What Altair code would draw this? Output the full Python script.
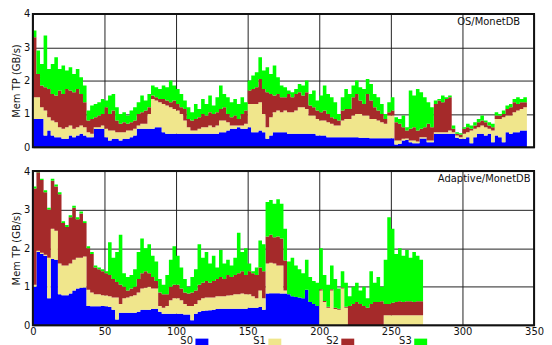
import altair as alt
import numpy as np
import pandas as pd

series = ["S0", "S1", "S2", "S3"]
colors = ["#0000ff", "#f0e68c", "#a52a2a", "#00ff00"]
x_step = 2.5
x_ticks = [0, 50, 100, 150, 200, 250, 300, 350]
y_ticks = [0, 1, 2, 3, 4]
panel_labels = ["OS/MonetDB", "Adaptive/MonetDB"]
y_title = "Mem TP (GB/s)"

# ---- OS/MonetDB: upper edge of each stacked band (GB/s), one value per 2.5 time units ----
os_s0 = [.85, .85, .85, .35, .5, .35, .3, .3, .25, .25,
         .35, .3, .35, .4, .35, .3, .3, .55, .55, .55,
         .3, .2, .25, .25, .2, .25, .25, .3, .35, .55,
         .55, .55, .55, .55, .6, .6, .45, .4, .4, .4,
         .4, .4, .4, .4, .4, .4, .4, .4, .4, .4,
         .4, .4, .45, .45, .5, .55, .55, .6, .55, .55,
         .6, .45, .45, .5, .45, .25, .35, .45, .45, .45,
         .45, .4, .4, .4, .4, .4, .4, .4, .4, .35,
         .35, .35, .3, .3, .3, .3, .3, .3, .3, .3,
         .3, .28, .28, .28, .27, .27, .27, .27, .27, .27,
         .27, .08, .1, .2, .22, .15, .12, .12, .26, .26,
         .15, .15, .4, .4, .4, .4, .4, .4, .28, .25,
         .25, .3, .12, .3, .4, .4, .35, .4, .15, .35,
         .3, .15, .45, .4, .45, .45, .5, .5, .5]
os_s1 = [1.5, 1.5, 1.2, 1.1, .9, .8, .75, .6, .55, .6,
         .65, .55, .6, .65, .6, .45, .4, .6, .6, .65,
         .55, .5, .5, .45, .45, .45, .5, .5, .55, .65,
         .7, .7, 1.0, 1.45, 1.4, 1.35, 1.3, 1.25, 1.2, 1.15,
         1.1, 1.0, .8, .6, .5, .5, .55, .6, .6, .65,
         .6, .65, .8, .8, .75, .65, .65, .65, .65, .7,
         1.3, 1.3, 1.3, 1.35, 1.0, .6, .9, 1.05, 1.1, 1.05,
         1.1, 1.05, 1.05, 1.1, 1.2, 1.2, 1.15, .95, .95, .85,
         .8, .8, .75, .7, .65, .65, .8, .85, .85, .95,
         1.0, 1.0, .95, .95, .85, .85, .8, .75, .7, .95,
         .95, .2, .2, .25, .26, .2, .2, .17, .3, .3,
         .2, .2, .45, .45, .45, .45, .5, .45, .35, .3,
         .4, .45, .5, .55, .6, .65, .6, .55, .5, .85,
         .85, .9, .95, .95, 1.05, 1.1, 1.15, 1.2, 1.2]
os_s2 = [3.3, 2.2, 1.85, 1.8, 1.75, 1.6, 1.55, 1.7, 1.6, 1.75,
         1.7, 1.65, 1.75, 1.6, 1.35, .8, .85, .9, .95, 1.0,
         1.2, 1.0, 1.1, .8, .7, .75, .7, .75, .8, 1.0,
         1.05, 1.1, 1.2, 1.55, 1.5, 1.45, 1.45, 1.4, 1.35, 1.4,
         1.3, 1.2, 1.15, .85, .8, .85, .9, 1.0, .95, 1.05,
         1.0, 1.05, 1.15, 1.2, 1.0, .9, .95, .85, 1.0, 1.1,
         1.7, 1.75, 1.8, 2.05, 1.75, 1.65, 1.6, 1.55, 1.6, 1.5,
         1.5, 1.6, 1.5, 1.6, 1.65, 1.55, 1.65, 1.25, 1.2, 1.1,
         1.05, 1.1, 1.0, .9, .85, .8, 1.1, 1.15, 1.15, 1.5,
         1.6, 1.4, 1.3, 1.6, 1.4, 1.2, 1.1, 1.0, .85, 1.05,
         1.1, .75, .7, .6, .5, .55, .6, .5, .55, .6,
         .7, .6, 1.3, 1.4, 1.35, 1.45, 1.5, .55, .4, .38,
         .55, .6, .55, .65, .75, .8, .75, .65, .6, .95,
         .95, 1.0, 1.15, 1.2, 1.35, 1.3, 1.35, 1.35, 1.35]
os_s3 = [3.5, 2.9, 2.5, 3.35, 2.35, 2.5, 2.7, 2.35, 2.45, 2.3,
         2.4, 2.2, 2.35, 2.1, 1.85, 1.1, 1.25, 1.3, 1.35, 1.45,
         1.4, 1.55, 1.6, 1.2, 1.0, 1.05, .95, 1.1, 1.2, 1.35,
         1.55, 1.4, 1.6, 1.85, 1.8, 1.75, 1.85, 1.8, 2.0, 1.85,
         1.75, 1.6, 1.4, 1.2, 1.05, 1.3, 1.15, 1.45, 1.3, 1.55,
         1.25, 1.5, 1.85, 1.6, 1.5, 1.35, 1.45, 1.3, 1.5, 1.35,
         2.0, 2.15, 2.25, 2.7, 2.3, 2.4, 2.2, 2.45, 2.1, 1.85,
         1.8, 1.7, 1.65, 1.75, 1.9, 1.85, 2.0, 1.6, 1.7, 1.4,
         1.55, 1.85, 1.6, 1.5, 1.35, 1.0, 1.5, 1.75, 1.6, 1.85,
         2.0, 1.8, 1.75, 2.05, 1.9, 1.6, 1.5, 1.3, 1.0, 1.35,
         1.5, .9, .85, .95, .6, 1.7, 1.55, 1.75, 1.65, 1.5,
         1.35, 1.2, 1.4, 1.45, 1.55, 1.5, 1.55, .65, .45, .42,
         .6, .7, .65, .75, .85, .95, .8, .75, .7, 1.05,
         1.0, 1.1, 1.25, 1.3, 1.45, 1.5, 1.45, 1.5, 1.5]

# ---- Adaptive/MonetDB ----
ad_s0 = [1.0, 1.9, 1.85, 1.8, .7, 1.72, 1.7, .8, .78, .78,
         .82, .9, .95, .97, .98, .5, .49, .49, .49, .5,
         .49, .47, .4, .15, .32, .32, .32, .32, .32, .35,
         .4, .4, .4, .42, .43, .35, .3, .3, .3, .3,
         .3, .3, .28, .28, .13, .3, .35, .37, .38, .39,
         .4, .42, .43, .43, .43, .43, .43, .43, .43, .43,
         .45, .45, .45, .47, .4, .82, .83, .83, .83, .82,
         .82, .8, .75, .73, .72, .7, .92, .6, .55, .5,
         0, 0, 0, 0, 0, 0, 0, 0, 0, 0,
         0, 0, 0, 0, 0, 0, 0, 0, 0, 0,
         0, 0, 0, 0, 0, 0, 0, 0, 0, 0]
ad_s1 = [1.05, 1.93, 1.88, 1.83, 1.75, 2.5, 2.45, 1.6, 1.55, 1.55,
         1.6, 1.7, 1.75, 1.75, 1.78, .92, .85, .8, .8, .78,
         .77, .75, .72, .72, .55, .7, .72, .75, .78, .85,
         .95, .97, 1.0, .95, .95, .5, .45, .5, .65, .7,
         .7, .65, .55, .5, .5, .55, .65, .7, .72, .72,
         .72, .75, .75, .75, .77, .78, .8, .8, .82, .8,
         .8, .75, .7, .9, .7, 1.6, 1.62, 1.6, 1.55, 1.55,
         .9, .8, .75, .73, .72, .7, .92, .6, .55, .5,
         .9, .6, .45, .9, .42, .4, .95, .45, 0, 0,
         0, 0, 0, 0, 0, 0, 0, 0, .26, .26,
         .26, .26, .26, .26, .26, .26, .26, .26, .26, .26]
ad_s2 = [3.55, 3.97, 3.77, 3.45, 3.0, 3.75, 3.6, 3.4, 2.65, 2.55,
         2.8, 3.05, 2.75, 2.9, 2.65, 2.0, 1.85, 1.5, 1.45, 1.4,
         1.35, 1.3, 1.2, 1.12, 1.05, 1.0, .9, .95, 1.0, 1.2,
         1.35, 1.4, 1.35, 1.25, 1.15, .85, .8, .8, 1.0, 1.05,
         1.05, .95, .85, .82, .85, .9, 1.05, 1.1, 1.15, 1.1,
         1.15, 1.2, 1.25, 1.2, 1.3, 1.25, 1.3, 1.35, 1.4, 1.3,
         1.4, 1.35, 1.3, 1.5, 1.4, 2.3, 2.35, 2.28, 2.3, 2.25,
         1.68, .8, .75, .73, .72, .7, .92, .6, .55, .5,
         .93, .63, .48, .93, .45, .43, .98, .48, .5, .55,
         .6, .55, .5, .45, .55, .6, .6, .62, .55, .55,
         .58, .6, .62, .6, .62, .62, .6, .62, .62, .62]
ad_s3 = [3.6, 4.0, 3.8, 3.5, 3.05, 3.8, 3.65, 3.45, 2.7, 2.6,
         2.85, 3.1, 2.8, 2.95, 2.7, 2.05, 1.9, 1.55, 1.5, 1.45,
         1.4, 2.15, 1.75, 1.9, 2.35, 1.35, 1.25, 1.3, 1.45, 1.9,
         2.25, 2.0, 2.1, 1.8, 1.65, 1.2, 1.05, 1.3, 1.7, 2.05,
         1.8, 1.5, 1.2, 1.0, 1.25, 1.45, 2.1, 1.75, 1.9, 1.6,
         1.8, 1.5, 1.95, 1.6, 1.7, 1.55, 1.75, 2.4, 1.9, 2.0,
         1.6, 1.4, 1.5, 2.2, 2.1, 3.2, 3.25, 3.15, 3.27, 3.15,
         2.5, 1.65, 1.75, 1.55, 1.45, 1.35, 1.7, 1.25, 1.15, 1.1,
         2.0, 1.3, 1.05, 1.55, 1.2, .95, 1.4, 1.1, .75, 1.0,
         1.1, .9, 1.0, .7, 1.4, 1.1, 1.25, 1.0, 1.7, 2.8,
         2.5, 1.85, 2.0, 1.8, 1.95, 1.75, 1.9, 1.8, 1.7, 1.7]


def bands(levels):
    n = len(levels[0])
    t = np.arange(n) * x_step
    lower = np.zeros(n)
    frames = []
    for name, top in zip(series, levels):
        top = np.maximum(np.asarray(top, dtype=float), lower)
        frames.append(pd.DataFrame({"t": t, "lo": lower, "hi": top, "series": name}))
        lower = top
    return pd.concat(frames, ignore_index=True)


W = 504
FONT = "DejaVu Sans"
color_enc = alt.Color("series:N", scale=alt.Scale(domain=series, range=colors), legend=None)


def panel(df, label, height, label_right, label_base, show_x):
    x_axis = alt.Axis(values=x_ticks, grid=True, labels=show_x, title=None,
                      labelPadding=1, labelFlush=False)
    y_axis = alt.Axis(values=y_ticks, grid=True, title=y_title, labelPadding=3,
                      titlePadding=2, labelFlush=False)
    area = alt.Chart(df).mark_area(interpolate="step-after").encode(
        x=alt.X("t:Q", scale=alt.Scale(domain=[0, 350], nice=False, zero=False), axis=x_axis),
        y=alt.Y("hi:Q", scale=alt.Scale(domain=[0, 4], nice=False), axis=y_axis),
        y2="lo:Q",
        color=color_enc,
    )
    one = pd.DataFrame({"label": [label]})
    frame = alt.Chart(one).mark_rect(fillOpacity=0, stroke="#111111", strokeWidth=2).encode(
        x=alt.value(0), x2=alt.value(W), y=alt.value(0), y2=alt.value(height))
    text = alt.Chart(one).mark_text(align="right", baseline="alphabetic", font=FONT,
                                    fontSize=10, color="#111111").encode(
        x=alt.value(W - label_right), y=alt.value(label_base), text="label:N")
    return alt.layer(area, frame, text).properties(width=W, height=height)


top = panel(bands([os_s0, os_s1, os_s2, os_s3]), panel_labels[0], 134, 14, 11.5, False)
bottom = panel(bands([ad_s0, ad_s1, ad_s2, ad_s3]), panel_labels[1], 155, 3.5, 10.7, True)

leg_df = pd.DataFrame({"series": series})
leg_x = alt.X("series:N", scale=alt.Scale(type="point", domain=series, range=[170, 390], padding=0),
              axis=None)
boxes = alt.Chart(leg_df).mark_square(size=169, opacity=1).encode(
    x=leg_x, y=alt.value(9), color=color_enc)
names = alt.Chart(leg_df).mark_text(align="right", baseline="alphabetic", dx=-9, font=FONT,
                                    fontSize=10, color="#111111").encode(
    x=leg_x, y=alt.value(8), text="series:N")
legend_row = alt.layer(boxes, names).properties(width=W, height=18)

chart = alt.vconcat(
    alt.vconcat(top, bottom, spacing=14),
    legend_row,
    spacing=0,
).properties(
    padding={"left": 3, "top": 0, "right": 0, "bottom": 0}
).configure_view(
    strokeWidth=0
).configure_axis(
    labelFont=FONT, labelFontSize=10, labelColor="#111111",
    titleFont=FONT, titleFontSize=10, titleFontWeight="normal", titleColor="#111111",
    gridColor="#222222", gridOpacity=1, gridWidth=1,
    domain=False, ticks=False,
).configure_concat(spacing=0)

chart.save("out.html", embed_options={"renderer": "svg", "actions": False})
